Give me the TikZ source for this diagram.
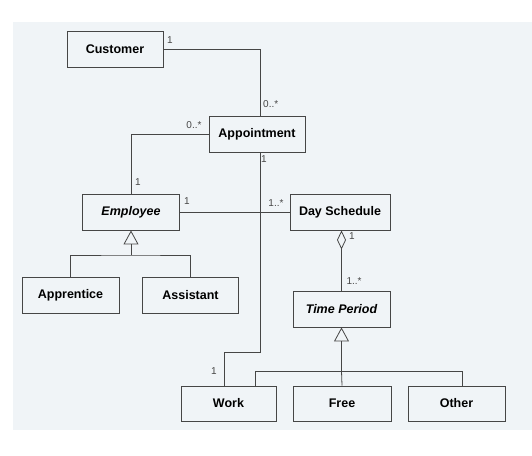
\documentclass[tikz,border=0pt]{standalone}
\usepackage{fontspec}
\setmainfont{Liberation Sans}
\usetikzlibrary{arrows.meta}
\definecolor{pagebg}{RGB}{240,244,247}
\definecolor{ink}{RGB}{70,70,70}
\tikzset{
  cls/.style={draw=ink, line width=0.9pt, fill=pagebg, minimum height=36pt, inner sep=0pt,
    font=\fontsize{12.5}{14}\selectfont\bfseries, text=black},
  abscls/.style={cls, font=\fontsize{12.5}{14}\selectfont\bfseries\itshape},
  conn/.style={draw=ink, line width=0.8pt},
  mult/.style={font=\fontsize{10}{11}\selectfont, text=ink, inner sep=0pt},
  gen/.style={conn, -{Triangle[open, length=14pt, width=15pt, line width=0.8pt]}},
  agg/.style={conn, {Diamond[open, length=19pt, width=9pt, line width=0.8pt]}-}
}
\begin{document}
\begin{tikzpicture}[x=1pt, y=-1pt]
\useasboundingbox (0,0) rectangle (532,455);
\fill[pagebg] (13,22) rectangle (532,430);

% classes
\node[cls, minimum width=96pt] (cust) at (115,49.5) {Customer};
\node[cls, minimum width=96pt] (appt) at (257,134) {Appointment};
\node[abscls, minimum width=97pt] (emp) at (131,212) {Employee};
\node[cls, minimum width=100pt] (ds) at (340,212) {Day Schedule};
\node[cls, minimum width=97pt] (appr) at (70.5,295) {Apprentice};
\node[cls, minimum width=96pt] (asst) at (190.5,295) {Assistant};
\node[abscls, minimum width=97pt] (tp) at (341.5,309) {Time Period};
\node[cls, minimum width=95pt, minimum height=35pt] (work) at (228.5,403.5) {Work};
\node[cls, minimum width=98pt, minimum height=35pt] (free) at (342,403.5) {Free};
\node[cls, minimum width=97pt, minimum height=35pt] (other) at (456.5,403.5) {Other};

% helper coordinates
\coordinate (apN) at (260,116);
\coordinate (apS) at (260,152);
\coordinate (wkbend) at (260,352);
\coordinate (wkN) at (224,386);
\coordinate (jE) at (131,255);
\coordinate (jT) at (341.5,371);
\coordinate (wkN2) at (255,386);
\coordinate (otN) at (462,386);

% associations
\draw[conn] (cust.east) -| (apN);
\draw[conn] (appt.west) -| (emp.north);
\draw[conn] (apS) -- (wkbend) -| (wkN);
\draw[conn] (emp.east) -- (ds.west);

% generalization Employee
\draw[gen] (jE) -- (emp.south);
\draw[conn] (appr.north) |- (jE) -| (asst.north);

% aggregation Day Schedule - Time Period
\draw[agg] ([xshift=1.5pt]ds.south) -- (tp.north);

% generalization Time Period
\draw[gen] (jT) -- (tp.south);
\draw[conn] (wkN2) |- (otN |- jT) -- (otN);
\draw[conn] (jT) -- (free.north);

% multiplicities
\node[mult] (m1) at (170,40) {1};
\node[mult, anchor=west] (m2) at (263,104) {0..*};
\node[mult] (m3) at (194,125) {0..*};
\node[mult] (m4) at (138,182) {1};
\node[mult] (m5) at (264,159) {1};
\node[mult] (m6) at (187,201) {1};
\node[mult] (m7) at (276,203) {1..*};
\node[mult] (m8) at (352,236) {1};
\node[mult] (m9) at (354,281) {1..*};
\node[mult] (m10) at (214,371) {1};
\end{tikzpicture}
\end{document}
